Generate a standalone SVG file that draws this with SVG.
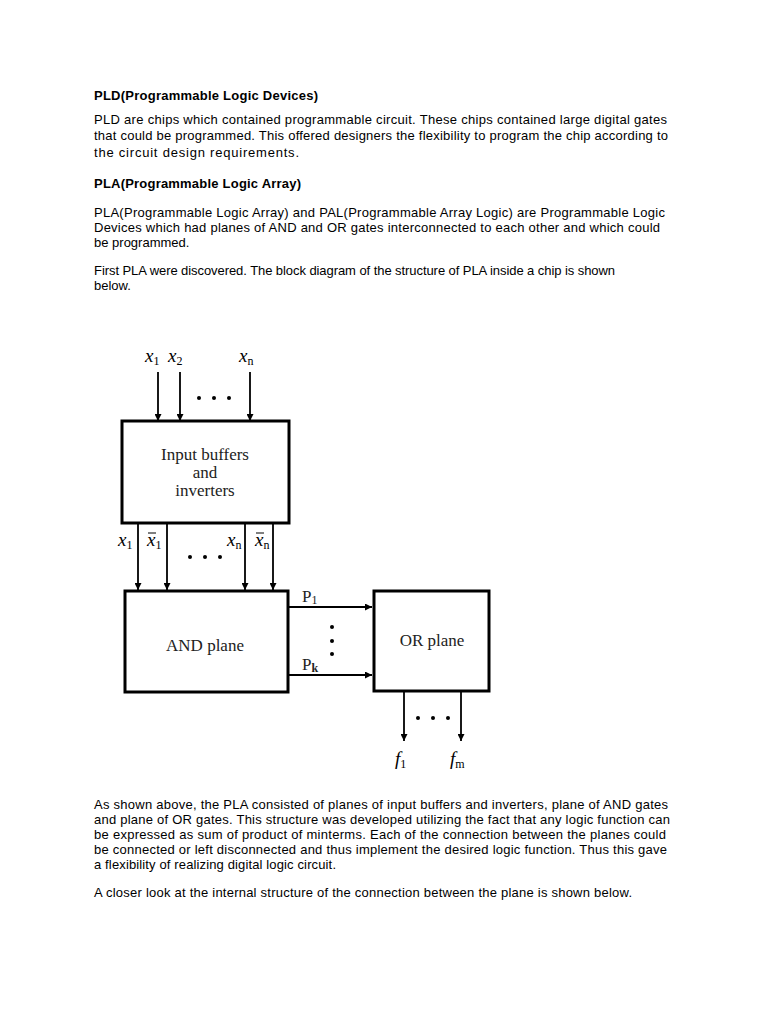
<svg xmlns="http://www.w3.org/2000/svg" width="768" height="1024" viewBox="0 0 768 1024">
<style>
.body{font-family:"Liberation Sans",Arial,sans-serif;font-size:13px;fill:#000}
.head{font-family:"Liberation Sans",Arial,sans-serif;font-size:13px;font-weight:bold;fill:#000}
.box{fill:#fff;stroke:#000;stroke-width:3}
.lbl{font-family:"Liberation Serif","Times New Roman",serif;font-size:17px;fill:#222}
.var{font-family:"Liberation Serif","Times New Roman",serif;font-size:19px;font-style:italic;fill:#000}
.sub{font-size:12px;font-style:normal}
.wire{stroke:#000;stroke-width:1.8;fill:none}
.dot{fill:#000}
</style>
<defs>
<marker id="ah" viewBox="0 0 10 10" refX="10" refY="5" markerWidth="7" markerHeight="7" markerUnits="userSpaceOnUse" orient="auto">
<path d="M0,0 L10,5 L0,10 z" fill="#000"/>
</marker>
</defs>
<rect width="768" height="1024" fill="#fff"/>
<g id="text">
<text class="head" x="94" y="100" textLength="224" lengthAdjust="spacing">PLD(Programmable Logic Devices)</text>
<text class="body" x="94" y="124" textLength="573" lengthAdjust="spacing">PLD are chips which contained programmable circuit. These chips contained large digital gates</text>
<text class="body" x="94" y="140" textLength="574" lengthAdjust="spacing">that could be programmed. This offered designers the flexibility to program the chip according to</text>
<text class="body" x="94" y="157" textLength="205" lengthAdjust="spacing">the circuit design requirements.</text>
<text class="head" x="94" y="188" textLength="207" lengthAdjust="spacing">PLA(Programmable Logic Array)</text>
<text class="body" x="94" y="217" textLength="571" lengthAdjust="spacing">PLA(Programmable Logic Array) and PAL(Programmable Array Logic) are Programmable Logic</text>
<text class="body" x="94" y="232" textLength="566" lengthAdjust="spacing">Devices which had planes of AND and OR gates interconnected to each other and which could</text>
<text class="body" x="94" y="247">be programmed.</text>
<text class="body" x="94" y="275" textLength="521" lengthAdjust="spacing">First PLA were discovered. The block diagram of the structure of PLA inside a chip is shown</text>
<text class="body" x="94" y="290">below.</text>
<text class="body" x="94" y="809" textLength="574" lengthAdjust="spacing">As shown above, the PLA consisted of planes of input buffers and inverters, plane of AND gates</text>
<text class="body" x="94" y="824" textLength="576" lengthAdjust="spacing">and plane of OR gates. This structure was developed utilizing the fact that any logic function can</text>
<text class="body" x="94" y="839" textLength="572" lengthAdjust="spacing">be expressed as sum of product of minterms. Each of the connection between the planes could</text>
<text class="body" x="94" y="854" textLength="573" lengthAdjust="spacing">be connected or left disconnected and thus implement the desired logic function. Thus this gave</text>
<text class="body" x="94" y="869" textLength="242" lengthAdjust="spacing">a flexibility of realizing digital logic circuit.</text>
<text class="body" x="94" y="897" textLength="538" lengthAdjust="spacing">A closer look at the internal structure of the connection between the plane is shown below.</text>
</g>
<g id="connectors">
<line class="wire" x1="158" y1="372" x2="158" y2="421" marker-end="url(#ah)"/>
<line class="wire" x1="180" y1="372" x2="180" y2="421" marker-end="url(#ah)"/>
<line class="wire" x1="250" y1="372" x2="250" y2="421" marker-end="url(#ah)"/>
<line class="wire" x1="138" y1="523" x2="138" y2="590" marker-end="url(#ah)"/>
<line class="wire" x1="167" y1="523" x2="167" y2="590" marker-end="url(#ah)"/>
<line class="wire" x1="245" y1="523" x2="245" y2="590" marker-end="url(#ah)"/>
<line class="wire" x1="273" y1="523" x2="273" y2="590" marker-end="url(#ah)"/>
<line class="wire" x1="289" y1="607" x2="372" y2="607" stroke-width="1.3" marker-end="url(#ah)"/>
<line class="wire" x1="289" y1="675" x2="372" y2="675" stroke-width="1.3" marker-end="url(#ah)"/>
<line class="wire" x1="404" y1="692" x2="404" y2="741" stroke-width="1.3" marker-end="url(#ah)"/>
<line class="wire" x1="461" y1="692" x2="461" y2="741" stroke-width="1.3" marker-end="url(#ah)"/>
<circle class="dot" cx="199" cy="398" r="2"/><circle class="dot" cx="214" cy="398" r="2"/><circle class="dot" cx="229" cy="398" r="2"/>
<circle class="dot" cx="190" cy="557" r="2"/><circle class="dot" cx="205" cy="557" r="2"/><circle class="dot" cx="220" cy="557" r="2"/>
<circle class="dot" cx="332" cy="627" r="2"/><circle class="dot" cx="332" cy="641" r="2"/><circle class="dot" cx="332" cy="654" r="2"/>
<circle class="dot" cx="418" cy="718" r="2"/><circle class="dot" cx="433" cy="718" r="2"/><circle class="dot" cx="448" cy="718" r="2"/>
<text class="var" x="145" y="362">x<tspan class="sub" dy="3">1</tspan></text>
<text class="var" x="168" y="362">x<tspan class="sub" dy="3">2</tspan></text>
<text class="var" x="239" y="362">x<tspan class="sub" dy="3" font-style="italic">n</tspan></text>
<text class="var" x="118" y="546">x<tspan class="sub" dy="3">1</tspan></text>
<text class="var" x="147" y="546">x<tspan class="sub" dy="3">1</tspan></text>
<line x1="148" y1="533" x2="156" y2="533" stroke="#000" stroke-width="1"/>
<text class="var" x="227" y="546">x<tspan class="sub" dy="3" font-style="italic">n</tspan></text>
<text class="var" x="255" y="546">x<tspan class="sub" dy="3" font-style="italic">n</tspan></text>
<line x1="256" y1="533" x2="264" y2="533" stroke="#000" stroke-width="1"/>
<text class="lbl" x="302" y="602" fill="#000">P<tspan class="sub" dy="2">1</tspan></text>
<text class="lbl" x="302" y="670" fill="#000">P<tspan class="sub" dy="2" font-style="italic" font-weight="bold">k</tspan></text>
<text class="var" x="395" y="765">f<tspan class="sub" dy="3">1</tspan></text>
<text class="var" x="450" y="765">f<tspan class="sub" dy="3" font-style="italic">m</tspan></text>
</g>
<g id="input-buffers">
<rect class="box" x="122" y="421" width="167" height="102"/>
<text class="lbl" x="205" y="460" text-anchor="middle">Input buffers</text>
<text class="lbl" x="205" y="478" text-anchor="middle">and</text>
<text class="lbl" x="205" y="496" text-anchor="middle">inverters</text>
</g>
<g id="and-plane">
<rect class="box" x="125" y="591" width="163" height="101"/>
<text class="lbl" x="205" y="651" text-anchor="middle">AND plane</text>
</g>
<g id="or-plane">
<rect class="box" x="374" y="591" width="115" height="100"/>
<text class="lbl" x="432" y="646" text-anchor="middle">OR plane</text>
</g>
</svg>
